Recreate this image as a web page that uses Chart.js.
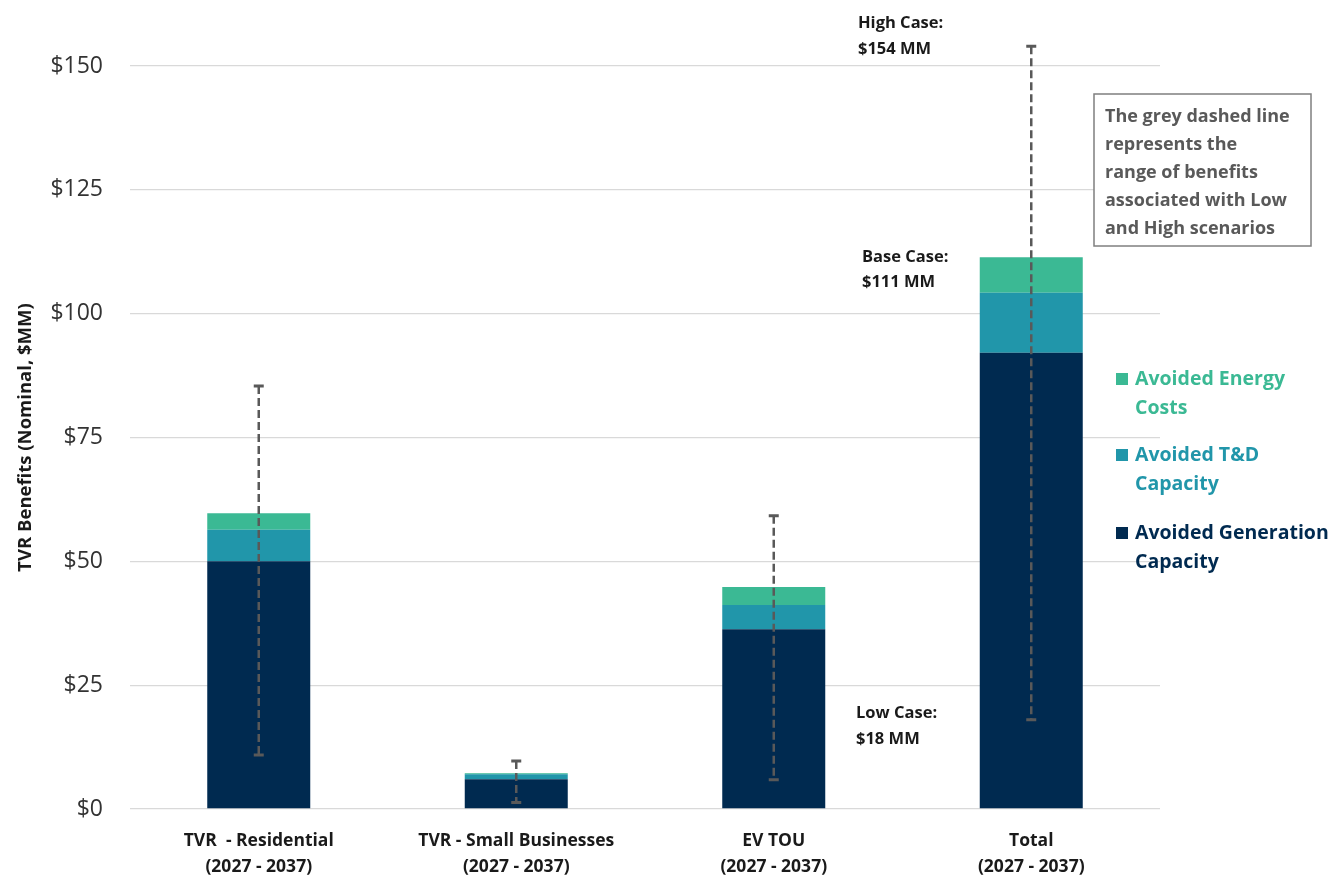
<!DOCTYPE html>
<html>
<head>
<meta charset="utf-8">
<script src="https://cdn.jsdelivr.net/npm/chart.js@4.4.1/dist/chart.umd.min.js"></script>
<style>
  html, body { margin: 0; padding: 0; background: #ffffff; }
  #wrap { width: 1338px; height: 880px; }
</style>
</head>
<body>
<div id="wrap"><canvas id="tvrChart"></canvas></div>
<script>
// Categories and stacked benefit components ($MM)
const categories = [
  ['TVR  - Residential', '(2027 - 2037)'],
  ['TVR - Small Businesses', '(2027 - 2037)'],
  ['EV TOU', '(2027 - 2037)'],
  ['Total', '(2027 - 2037)']
];
const generationCapacity = [50.0, 6.0, 36.3, 92.1];
const tdCapacity = [6.4, 1.0, 4.9, 12.1];
const energyCosts = [3.3, 0.2, 3.6, 7.2];

// Low / High scenario range for each category
const lowCase = [10.9, 1.3, 5.9, 18];
const highCase = [85.4, 9.7, 59.2, 154];

const yTicks = [0, 25, 50, 75, 100, 125, 150];

const FONT = '"Open Sans", Calibri, sans-serif';
const colors = {
  gen: '#002a50',
  td: '#2196aa',
  energy: '#3bb994',
  range: '#595959'
};

// Dashed whiskers showing the Low-High scenario range
const rangePlugin = {
  id: 'rangeLines',
  afterDatasetsDraw(chart) {
    const ctx = chart.ctx;
    const x = chart.scales.x;
    const y = chart.scales.y;
    ctx.save();
    ctx.strokeStyle = colors.range;
    categories.forEach((c, i) => {
      const cx = x.getPixelForValue(i);
      const yLow = y.getPixelForValue(lowCase[i]);
      const yHigh = y.getPixelForValue(highCase[i]);
      ctx.lineWidth = 2.5;
      ctx.setLineDash([8, 4]);
      ctx.beginPath();
      ctx.moveTo(cx, yHigh);
      ctx.lineTo(cx, yLow);
      ctx.stroke();
      ctx.setLineDash([]);
      ctx.lineWidth = 3;
      ctx.beginPath();
      ctx.moveTo(cx - 5, yHigh);
      ctx.lineTo(cx + 5, yHigh);
      ctx.moveTo(cx - 5, yLow);
      ctx.lineTo(cx + 5, yLow);
      ctx.stroke();
    });
    ctx.restore();
  }
};

// Case callouts, explanation box and side legend
const notesPlugin = {
  id: 'notes',
  afterDraw(chart) {
    const ctx = chart.ctx;
    const y = chart.scales.y;
    const last = categories.length - 1;
    const baseTotal = generationCapacity[last] + tdCapacity[last] + energyCosts[last];
    ctx.save();
    ctx.textBaseline = 'middle';
    ctx.textAlign = 'left';

    ctx.fillStyle = '#1a1a1a';
    ctx.font = 'bold 16.5px ' + FONT;
    const yHigh = y.getPixelForValue(highCase[last]);
    ctx.fillText('High Case:', 858, yHigh - 23);
    ctx.fillText('$' + Math.round(highCase[last]) + ' MM', 858, yHigh + 3);
    const yBase = y.getPixelForValue(baseTotal);
    ctx.fillText('Base Case:', 862, yBase);
    ctx.fillText('$' + Math.round(baseTotal) + ' MM', 862, yBase + 25);
    const yLow = y.getPixelForValue(lowCase[last]);
    ctx.fillText('Low Case:', 856, yLow - 7);
    ctx.fillText('$' + Math.round(lowCase[last]) + ' MM', 856, yLow + 19);

    // explanation box
    ctx.fillStyle = '#ffffff';
    ctx.fillRect(1094, 94, 217, 152);
    ctx.strokeStyle = '#7f7f7f';
    ctx.lineWidth = 1.5;
    ctx.strokeRect(1094, 94, 217, 152);
    ctx.fillStyle = '#595959';
    ctx.font = 'bold 18px ' + FONT;
    ['The grey dashed line', 'represents the', 'range of benefits',
     'associated with Low', 'and High scenarios'].forEach((line, i) => {
      ctx.fillText(line, 1105, 117 + i * 28);
    });

    // legend, top item first
    const items = [
      { lines: ['Avoided Energy', 'Costs'], color: colors.energy, top: 379 },
      { lines: ['Avoided T&D', 'Capacity'], color: colors.td, top: 455 },
      { lines: ['Avoided Generation', 'Capacity'], color: colors.gen, top: 533 }
    ];
    ctx.font = 'bold 19.5px ' + FONT;
    items.forEach(it => {
      ctx.fillStyle = it.color;
      ctx.fillRect(1116, it.top - 6, 12, 12);
      ctx.fillText(it.lines[0], 1135, it.top);
      ctx.fillText(it.lines[1], 1135, it.top + 29);
    });
    ctx.restore();
  }
};

new Chart(document.getElementById('tvrChart'), {
  type: 'bar',
  data: {
    labels: categories,
    datasets: [
      { label: 'Avoided Generation Capacity', data: generationCapacity, backgroundColor: colors.gen },
      { label: 'Avoided T&D Capacity', data: tdCapacity, backgroundColor: colors.td },
      { label: 'Avoided Energy Costs', data: energyCosts, backgroundColor: colors.energy }
    ]
  },
  options: {
    responsive: true,
    maintainAspectRatio: false,
    animation: false,
    layout: { padding: { top: 66, right: 178, bottom: 0, left: 0 } },
    datasets: { bar: { categoryPercentage: 0.8, barPercentage: 0.5 } },
    plugins: {
      legend: { display: false },
      tooltip: { enabled: false }
    },
    scales: {
      x: {
        stacked: true,
        grid: { display: false },
        border: { display: false },
        ticks: {
          color: '#1a1a1a',
          font: { family: FONT, size: 17.5, weight: 'bold', lineHeight: 1.5 },
          padding: 11,
          maxRotation: 0
        },
        afterFit: s => { s.height = 71; }
      },
      y: {
        stacked: true,
        min: 0,
        max: 150,
        afterBuildTicks: s => { s.ticks = yTicks.map(v => ({ value: v })); },
        grid: { color: '#d9d9d9', lineWidth: 1.3, drawTicks: false },
        border: { display: false },
        ticks: {
          color: '#333333',
          font: { family: FONT, size: 23 },
          padding: 27,
          callback: v => '$' + v
        },
        title: {
          display: true,
          text: 'TVR Benefits (Nominal, $MM)',
          color: '#1a1a1a',
          font: { family: FONT, size: 18.5, weight: 'bold' },
          padding: { top: 15, bottom: 0 }
        },
        afterFit: s => { s.width = 130; }
      }
    }
  },
  plugins: [rangePlugin, notesPlugin]
});
</script>
</body>
</html>
